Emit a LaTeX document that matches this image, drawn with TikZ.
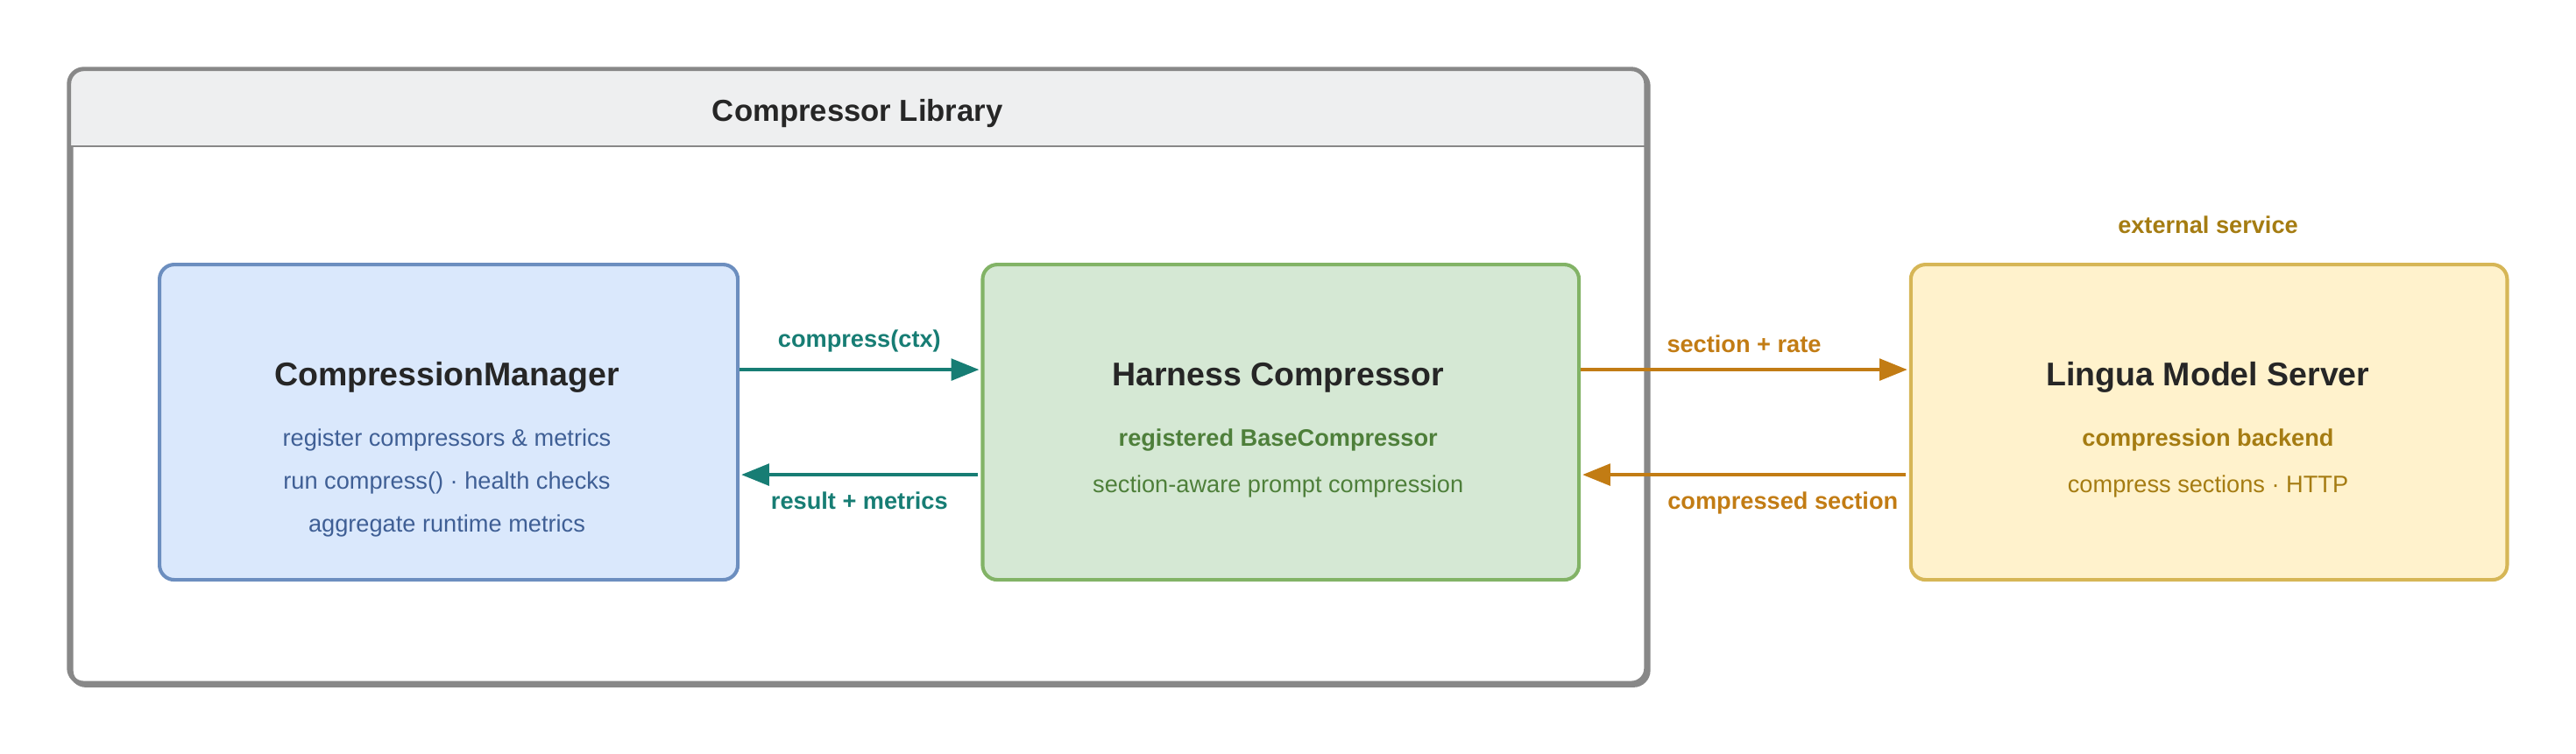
\documentclass[tikz,border=0pt]{standalone}
\usepackage{fontspec}
\setmainfont{Liberation Sans}
\usetikzlibrary{arrows.meta,calc}
\definecolor{bfill}{HTML}{DAE8FC}\definecolor{bline}{HTML}{6C8EBF}\definecolor{btext}{HTML}{3F5F95}
\definecolor{gfill}{HTML}{D5E8D4}\definecolor{gline}{HTML}{82B366}\definecolor{gtext}{HTML}{4E7F3A}
\definecolor{yfill}{HTML}{FFF2CC}\definecolor{yline}{HTML}{D6B656}\definecolor{ytext}{HTML}{A57C12}
\definecolor{teal}{HTML}{177D74}\definecolor{orng}{HTML}{C27C14}
\definecolor{hdr}{HTML}{EEEFF0}\definecolor{frame}{HTML}{888888}\definecolor{ink}{HTML}{262626}
\begin{document}
\begin{tikzpicture}[x=1pt,y=-1pt,
 box/.style={draw,line width=2.2pt,rounded corners=9pt,anchor=north west,inner sep=0pt},
 ttl/.style={font=\bfseries\fontsize{20}{24}\selectfont,text=ink},
 sub/.style={font=\fontsize{14.5}{17}\selectfont},
 lab/.style={font=\bfseries\fontsize{14.5}{17}\selectfont},
 arr/.style={line width=2.4pt,-{Triangle[length=17pt,width=13pt]}}]
\useasboundingbox (0,0) rectangle (1568,459);
% outer library
\node[box,draw=frame,line width=2.6pt,minimum width=960pt,minimum height=374pt] (lib) at (42,42) {};
\begin{scope}
\clip[rounded corners=9pt] (42,42) rectangle (1002,416);
\fill[hdr] (42,42) rectangle (1002,89);
\end{scope}
\draw[frame,line width=2.6pt,rounded corners=9pt] (42,42) rectangle (1002,416);
\draw[frame,line width=1.4pt] (42,89) -- (1002,89);
\node[font=\bfseries\fontsize{18.5}{22}\selectfont,text=ink] (libt) at (522,69) {Compressor Library};
% boxes
\node[box,fill=bfill,draw=bline,minimum width=352pt,minimum height=192pt] (cm) at (96,160) {};
\node[box,fill=gfill,draw=gline,minimum width=363pt,minimum height=192pt] (hc) at (597,160) {};
\node[box,fill=yfill,draw=yline,minimum width=363pt,minimum height=192pt] (lm) at (1162,160) {};
% texts
\node[ttl] (cmt) at (272,230) {CompressionManager};
\node[sub,text=btext] (cm1) at (272,268) {register compressors \& metrics};
\node[sub,text=btext] (cm2) at (272,294) {run compress() · health checks};
\node[sub,text=btext] (cm3) at (272,320) {aggregate runtime metrics};
\node[ttl] (hct) at (778,230) {Harness Compressor};
\node[lab,text=gtext] (hc1) at (778,268) {registered BaseCompressor};
\node[sub,text=gtext] (hc2) at (778,296) {section-aware prompt compression};
\node[ttl] (lmt) at (1344,230) {Lingua Model Server};
\node[lab,text=ytext] (lm1) at (1344,268) {compression backend};
\node[sub,text=ytext] (lm2) at (1344,296) {compress sections · HTTP};
\node[lab,text=ytext] (ext) at (1344,137) {external service};
% arrows
\draw[arr,teal] ($(cm.east)+(0,-32)$) -- ($(hc.west)+(-1,-32)$) node[midway,above=6pt,lab,text=teal] (l1) {compress(ctx)};
\draw[arr,teal] ($(hc.west)+(-2,32)$) -- ($(cm.east)+(1,32)$) node[midway,below=6pt,lab,text=teal] (l2) {result + metrics};
\draw[arr,orng] ($(hc.east)+(0,-32)$) -- ($(lm.west)+(-1,-32)$) node[midway,above=6pt,lab,text=orng] (l3) {section + rate};
\draw[arr,orng] ($(lm.west)+(-2,32)$) -- ($(hc.east)+(1,32)$) node[pos=0.38,below=6pt,lab,text=orng] (l4) {compressed section};
\end{tikzpicture}
\end{document}
